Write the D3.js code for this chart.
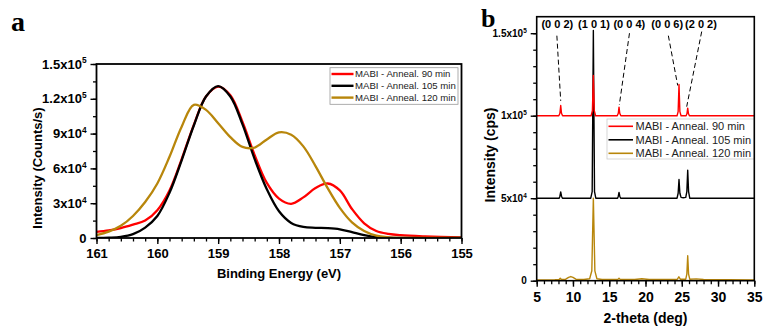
<!DOCTYPE html>
<html><head><meta charset="utf-8">
<script src="https://cdn.jsdelivr.net/npm/d3@7"></script>
<style>
html,body{margin:0;padding:0;background:#fff;}
svg{display:block;font-family:Arial,"Liberation Sans",sans-serif;}
</style></head>
<body>
<svg id="chart" width="769" height="333"></svg>
<script>
// ---------------- DATA ----------------
const seriesNames = ["MABI - Anneal. 90 min", "MABI - Anneal. 105 min", "MABI - Anneal. 120 min"];
const seriesColors = ["#ff0000", "#000000", "#b8860b"];

// Panel a: XPS (binding energy eV, intensity counts/s)
const xps90 = [[161,5200],[160.8,6500],[160.6,8500],[160.4,11500],[160.2,15000],[160,24000],[159.8,41000],[159.6,68000],[159.4,97500],[159.2,122000],[159,130500],[158.8,123000],[158.6,100000],[158.4,71500],[158.2,47500],[158,34000],[157.8,29500],[157.6,35000],[157.4,43000],[157.2,47000],[157,41000],[156.8,25000],[156.6,12700],[156.4,6000],[156.2,3500],[156,2400],[155.6,1400],[155,500]];
const xps105 = [[161,0],[160.8,300],[160.6,1000],[160.4,3300],[160.2,9000],[160,19000],[159.8,39000],[159.6,67000],[159.4,97000],[159.2,122000],[159,131000],[158.8,122000],[158.6,98000],[158.4,68000],[158.2,42000],[158,23000],[157.8,13000],[157.6,9500],[157.4,8800],[157.2,8500],[157,7500],[156.8,5000],[156.6,2500],[156.4,800],[156.2,200],[156,0],[155,0]];
const xps120 = [[161,2500],[160.8,5500],[160.6,10500],[160.4,19000],[160.2,31000],[160,47000],[159.8,70000],[159.6,96000],[159.4,114800],[159.2,110500],[159,99000],[158.8,87000],[158.6,78500],[158.4,78000],[158.2,85000],[158,91000],[157.8,89000],[157.6,79000],[157.4,62000],[157.2,43000],[157,26000],[156.8,13500],[156.6,6000],[156.4,2000],[156.2,600],[156,100],[155.5,0],[155,0]];
const xpsXTicks = [161,160,159,158,157,156,155];
const xpsYTicks = [0,30000,60000,90000,120000,150000];
const xpsYLabels = ["0","3x10^4","6x10^4","9x10^4","1.2x10^5","1.5x10^5"];

// Panel b: XRD (2-theta deg, intensity cps, as stacked in the figure)
const xrd90 = [[5,100000],[8.05,100000],[8.2,101500],[8.31,106200],[8.42,101500],[8.57,100000],[12.5,100000],[12.68,103000],[12.81,124400],[12.94,103000],[13.12,100000],[16.1,100000],[16.25,101500],[16.35,105200],[16.45,101500],[16.6,100000],[24.35,100000],[24.5,102500],[24.62,118900],[24.74,102500],[24.9,100000],[25.6,100000],[25.72,101300],[25.82,104600],[25.92,101300],[26.05,100000],[35,100000]];
const xrd105 = [[5,50000],[8.1,50000],[8.2,51200],[8.31,53800],[8.42,51200],[8.55,50000],[12.45,50000],[12.65,54000],[12.81,151600],[12.97,54000],[13.15,50000],[16.15,50000],[16.25,51200],[16.35,53500],[16.45,51200],[16.58,50000],[24.35,50000],[24.5,53000],[24.62,61300],[24.74,53000],[24.9,50500],[25.2,50300],[25.55,50500],[25.7,54000],[25.82,66900],[25.94,54000],[26.1,50000],[35,50000]];
const xrd120 = [[5,500],[7.5,600],[8.1,700],[8.25,1500],[8.4,700],[9,900],[9.4,2000],[9.7,2500],[10,2000],[10.4,900],[11.5,700],[12.3,1200],[12.6,6000],[12.81,50000],[13.02,6000],[13.3,1200],[14,700],[16.2,800],[16.35,1500],[16.5,800],[18.5,700],[19.5,1200],[20.5,700],[24.4,900],[24.6,2400],[24.8,900],[25.55,900],[25.7,4000],[25.82,15100],[25.94,4000],[26.1,900],[27,1100],[28,700],[35,500]];
const xrdXTicks = [5,10,15,20,25,30,35];
const xrdYTicks = [0,50000,100000,150000];
const xrdYLabels = ["0","5x10^4","1x10^5","1.5x10^5"];
const hklLabels = ["(0 0 2)","(1 0 1)","(0 0 4)","(0 0 6)","(2 0 2)"];
const hklLabelX = [7.84, 12.9, 17.77, 23.0, 27.65];
const hklLabelY = 153000;
// dashed guide lines: [x1,y1,x2,y2] in data units
const hklGuides = [[7.78,148500,8.31,109000],[17.79,150000,16.39,106500],[23.15,148500,24.44,118300],[27.75,151000,25.68,105500]];

// ---------------- DRAW ----------------
const svg = d3.select("#chart");

function labelSup(textSel, labels, fs) {
  textSel.each(function(d, i) {
    const t = d3.select(this);
    t.text(null);
    const parts = labels[i].split("^");
    t.append("tspan").text(parts[0]);
    if (parts[1]) {
      t.append("tspan").attr("dy", -fs * 0.4).attr("font-size", fs * 0.64).text(parts[1]);
    }
  });
}

// ===== Panel a =====
const xa = d3.scaleLinear().domain([161, 155]).range([96.5, 461.5]);
const ya = d3.scaleLinear().domain([0, 150000]).range([238, 64]);
const ga = svg.append("g");

ga.append("g").attr("transform", "translate(0,238)")
  .call(d3.axisBottom(xa).tickValues(d3.range(0, 31).map(i => 161 - i * 0.2)).tickSize(3.5).tickFormat(""))
  .call(g => g.select(".domain").remove())
  .selectAll("line").attr("stroke-width", 1.3);
ga.append("g").attr("transform", "translate(96.5,0)")
  .call(d3.axisLeft(ya).tickValues(d3.range(0, 11).map(i => i * 15000)).tickSize(3.5).tickFormat(""))
  .call(g => g.select(".domain").remove())
  .selectAll("line").attr("stroke-width", 1.3);
const axA = ga.append("g").attr("transform", "translate(0,238)")
  .call(d3.axisBottom(xa).tickValues(xpsXTicks).tickSize(6).tickPadding(5).tickFormat(d3.format("d")));
axA.select(".domain").remove();
axA.selectAll("line").attr("stroke-width", 1.4);
axA.selectAll("text").attr("font-size", 13).attr("font-weight", "bold").attr("fill", "#000").attr("font-family", "Arial, 'Liberation Sans', sans-serif");
const ayA = ga.append("g").attr("transform", "translate(96.5,0)")
  .call(d3.axisLeft(ya).tickValues(xpsYTicks).tickSize(6).tickPadding(4));
ayA.select(".domain").remove();
ayA.selectAll("line").attr("stroke-width", 1.4);
ayA.selectAll("text").attr("font-size", 13).attr("font-weight", "bold").attr("fill", "#000").attr("font-family", "Arial, 'Liberation Sans', sans-serif")
  .call(s => labelSup(s, xpsYLabels, 13));

const lineA = d3.line().x(d => xa(d[0])).y(d => ya(d[1])).curve(d3.curveCatmullRom.alpha(0.5));
svg.append("clipPath").attr("id", "clipA").append("rect")
  .attr("x", 96.5).attr("y", 64).attr("width", 365).attr("height", 174);
[xps90, xps105, xps120].forEach((s, i) => {
  ga.append("path").datum(s).attr("d", lineA).attr("fill", "none")
    .attr("stroke", seriesColors[i]).attr("stroke-width", 2.3).attr("clip-path", "url(#clipA)");
});
ga.append("rect").attr("x", 96.5).attr("y", 64).attr("width", 365).attr("height", 174)
  .attr("fill", "none").attr("stroke", "#000").attr("stroke-width", 1.8);

const lgA = ga.append("g");
lgA.append("rect").attr("x", 330).attr("y", 67.7).attr("width", 128).attr("height", 36.6)
  .attr("fill", "#fff").attr("stroke", "#999").attr("stroke-width", 0.8);
seriesNames.forEach((n, i) => {
  const yy = 74 + i * 11.8;
  lgA.append("line").attr("x1", 331.5).attr("x2", 353.5).attr("y1", yy).attr("y2", yy)
    .attr("stroke", seriesColors[i]).attr("stroke-width", 2.4);
  lgA.append("text").attr("x", 355).attr("y", yy + 3.4).attr("font-size", 9.6).attr("fill", "#222").text(n);
});

ga.append("text").attr("x", 279).attr("y", 278).attr("text-anchor", "middle")
  .attr("font-size", 13).attr("font-weight", "bold").text("Binding Energy (eV)");
ga.append("text").attr("transform", "translate(42,168) rotate(-90)").attr("text-anchor", "middle")
  .attr("font-size", 13).attr("font-weight", "bold").text("Intensity (Counts/s)");
svg.append("text").attr("x", 11).attr("y", 31).attr("font-family", "'Liberation Serif','Times New Roman',serif")
  .attr("font-size", 28).attr("font-weight", "bold").text("a");

// ===== Panel b =====
const xb = d3.scaleLinear().domain([5, 35]).range([536.7, 754.3]);
const yb = d3.scaleLinear().domain([0, 160000]).range([280.7, 16.7]);
const gb = svg.append("g");

gb.append("g").attr("transform", "translate(0,280.7)")
  .call(d3.axisBottom(xb).tickValues(d3.range(5, 36, 1)).tickSize(3.5).tickFormat(""))
  .call(g => g.select(".domain").remove())
  .selectAll("line").attr("stroke-width", 1.3);
gb.append("g").attr("transform", "translate(536.7,0)")
  .call(d3.axisLeft(yb).tickValues(d3.range(0, 16).map(i => i * 10000)).tickSize(3.5).tickFormat(""))
  .call(g => g.select(".domain").remove())
  .selectAll("line").attr("stroke-width", 1.3);
const axB = gb.append("g").attr("transform", "translate(0,280.7)")
  .call(d3.axisBottom(xb).tickValues(xrdXTicks).tickSize(6).tickPadding(5).tickFormat(d3.format("d")));
axB.select(".domain").remove();
axB.selectAll("line").attr("stroke-width", 1.4);
axB.selectAll("text").attr("font-size", 14).attr("font-weight", "bold").attr("fill", "#000").attr("font-family", "Arial, 'Liberation Sans', sans-serif");
const ayB = gb.append("g").attr("transform", "translate(536.7,0)")
  .call(d3.axisLeft(yb).tickValues(xrdYTicks).tickSize(6).tickPadding(4));
ayB.select(".domain").remove();
ayB.selectAll("line").attr("stroke-width", 1.4);
ayB.selectAll("text").attr("font-size", 10).attr("font-weight", "bold").attr("fill", "#000").attr("font-family", "Arial, 'Liberation Sans', sans-serif")
  .call(s => labelSup(s, xrdYLabels, 10));

const lineB = d3.line().x(d => xb(d[0])).y(d => yb(d[1]));
svg.append("clipPath").attr("id", "clipB").append("rect")
  .attr("x", 536.7).attr("y", 16.7).attr("width", 217.6).attr("height", 264);
[[xrd120, 2], [xrd105, 1], [xrd90, 0]].forEach(([s, i]) => {
  gb.append("path").datum(s).attr("d", lineB).attr("fill", "none")
    .attr("stroke", seriesColors[i]).attr("stroke-width", 1.4).attr("stroke-linejoin", "round")
    .attr("clip-path", "url(#clipB)");
});

hklGuides.forEach(g => {
  gb.append("line").attr("x1", xb(g[0])).attr("y1", yb(g[1])).attr("x2", xb(g[2])).attr("y2", yb(g[3]))
    .attr("stroke", "#000").attr("stroke-width", 1).attr("stroke-dasharray", "5,3");
});
hklLabels.forEach((l, i) => {
  gb.append("text").attr("x", xb(hklLabelX[i])).attr("y", yb(hklLabelY)).attr("text-anchor", "middle")
    .attr("font-size", 11).attr("font-weight", "bold").text(l);
});

const lgB = gb.append("g");
lgB.append("rect").attr("x", 607).attr("y", 119).attr("width", 147.3).attr("height", 40)
  .attr("fill", "#fff").attr("stroke", "#ccc").attr("stroke-width", 0.8);
seriesNames.forEach((n, i) => {
  const yy = 126.3 + i * 13.5;
  lgB.append("line").attr("x1", 608.5).attr("x2", 633).attr("y1", yy).attr("y2", yy)
    .attr("stroke", seriesColors[i]).attr("stroke-width", 1.6);
  lgB.append("text").attr("x", 635.5).attr("y", yy + 4).attr("font-size", 11).attr("fill", "#222").text(n);
});

gb.append("rect").attr("x", 536.7).attr("y", 16.7).attr("width", 217.6).attr("height", 264)
  .attr("fill", "none").attr("stroke", "#000").attr("stroke-width", 1.6);

gb.append("text").attr("x", 645.5).attr("y", 323).attr("text-anchor", "middle")
  .attr("font-size", 14).attr("font-weight", "bold").text("2-theta (deg)");
gb.append("text").attr("transform", "translate(495,155) rotate(-90)").attr("text-anchor", "middle")
  .attr("font-size", 14).attr("font-weight", "bold").text("Intensity (cps)");
svg.append("text").attr("x", 481).attr("y", 27).attr("font-family", "'Liberation Serif','Times New Roman',serif")
  .attr("font-size", 26).attr("font-weight", "bold").text("b");
</script>
</body></html>
